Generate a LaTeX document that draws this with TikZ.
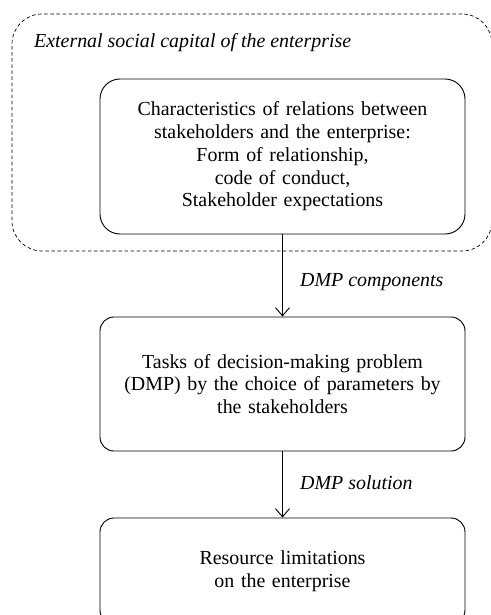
\documentclass[tikz,border=0pt]{standalone}
\usepackage{fontspec}
\setmainfont{Liberation Serif}
\usetikzlibrary{arrows.meta, positioning}

\begin{document}
\begin{tikzpicture}[
  x=0.03cm, y=-0.03cm,
  font=\fontsize{17}{19.4}\selectfont,
  capital/.style={draw, dashed, dash pattern=on 3pt off 2.2pt, line width=0.6pt,
    rounded corners=0.9cm, minimum width=14.4cm, minimum height=7.11cm},
  stagebox/.style={draw, line width=0.8pt, align=center, text width=10.8cm,
    minimum width=10.95cm, inner sep=0pt},
  flowarrow/.style={draw, line width=0.8pt, -{Straight Barb[length=7pt, width=12pt]}},
  flowlabel/.style={font=\fontsize{17}{19}\selectfont\itshape, anchor=west}
]
\useasboundingbox (0,0) rectangle (490,615);

% ============ OUTER AREA : SOCIAL CAPITAL ============
\node[capital] (capital) at (252,132.5) {};
\node[flowlabel] (captitle) at (30,43) {External social capital of the enterprise};

% ============ STAGES ============
\node[stagebox, rounded corners=0.6cm, minimum height=4.65cm] (relations) at (282.5,156.5)
  {Characteristics of relations between\\ stakeholders and the enterprise:\\
   Form of relationship,\\ code of conduct,\\ Stakeholder expectations};
\node[stagebox, rounded corners=0.42cm, minimum height=4.02cm] (tasks) at (282.5,384)
  {Tasks of decision-making problem\\ (DMP) by the choice of parameters by\\ the stakeholders};
\node[stagebox, rounded corners=0.42cm, minimum height=3.18cm] (limits) at (282.5,571)
  {Resource limitations\\ on the enterprise};

% ============ CONNECTORS ============
\draw[flowarrow] (relations.south) -- (tasks.north)
  node[flowlabel, midway, xshift=0.4cm, yshift=-0.2cm] {DMP components};
\draw[flowarrow] (tasks.south) -- (limits.north)
  node[flowlabel, midway, xshift=0.4cm, yshift=0.05cm] {DMP solution};

\end{tikzpicture}
\end{document}
